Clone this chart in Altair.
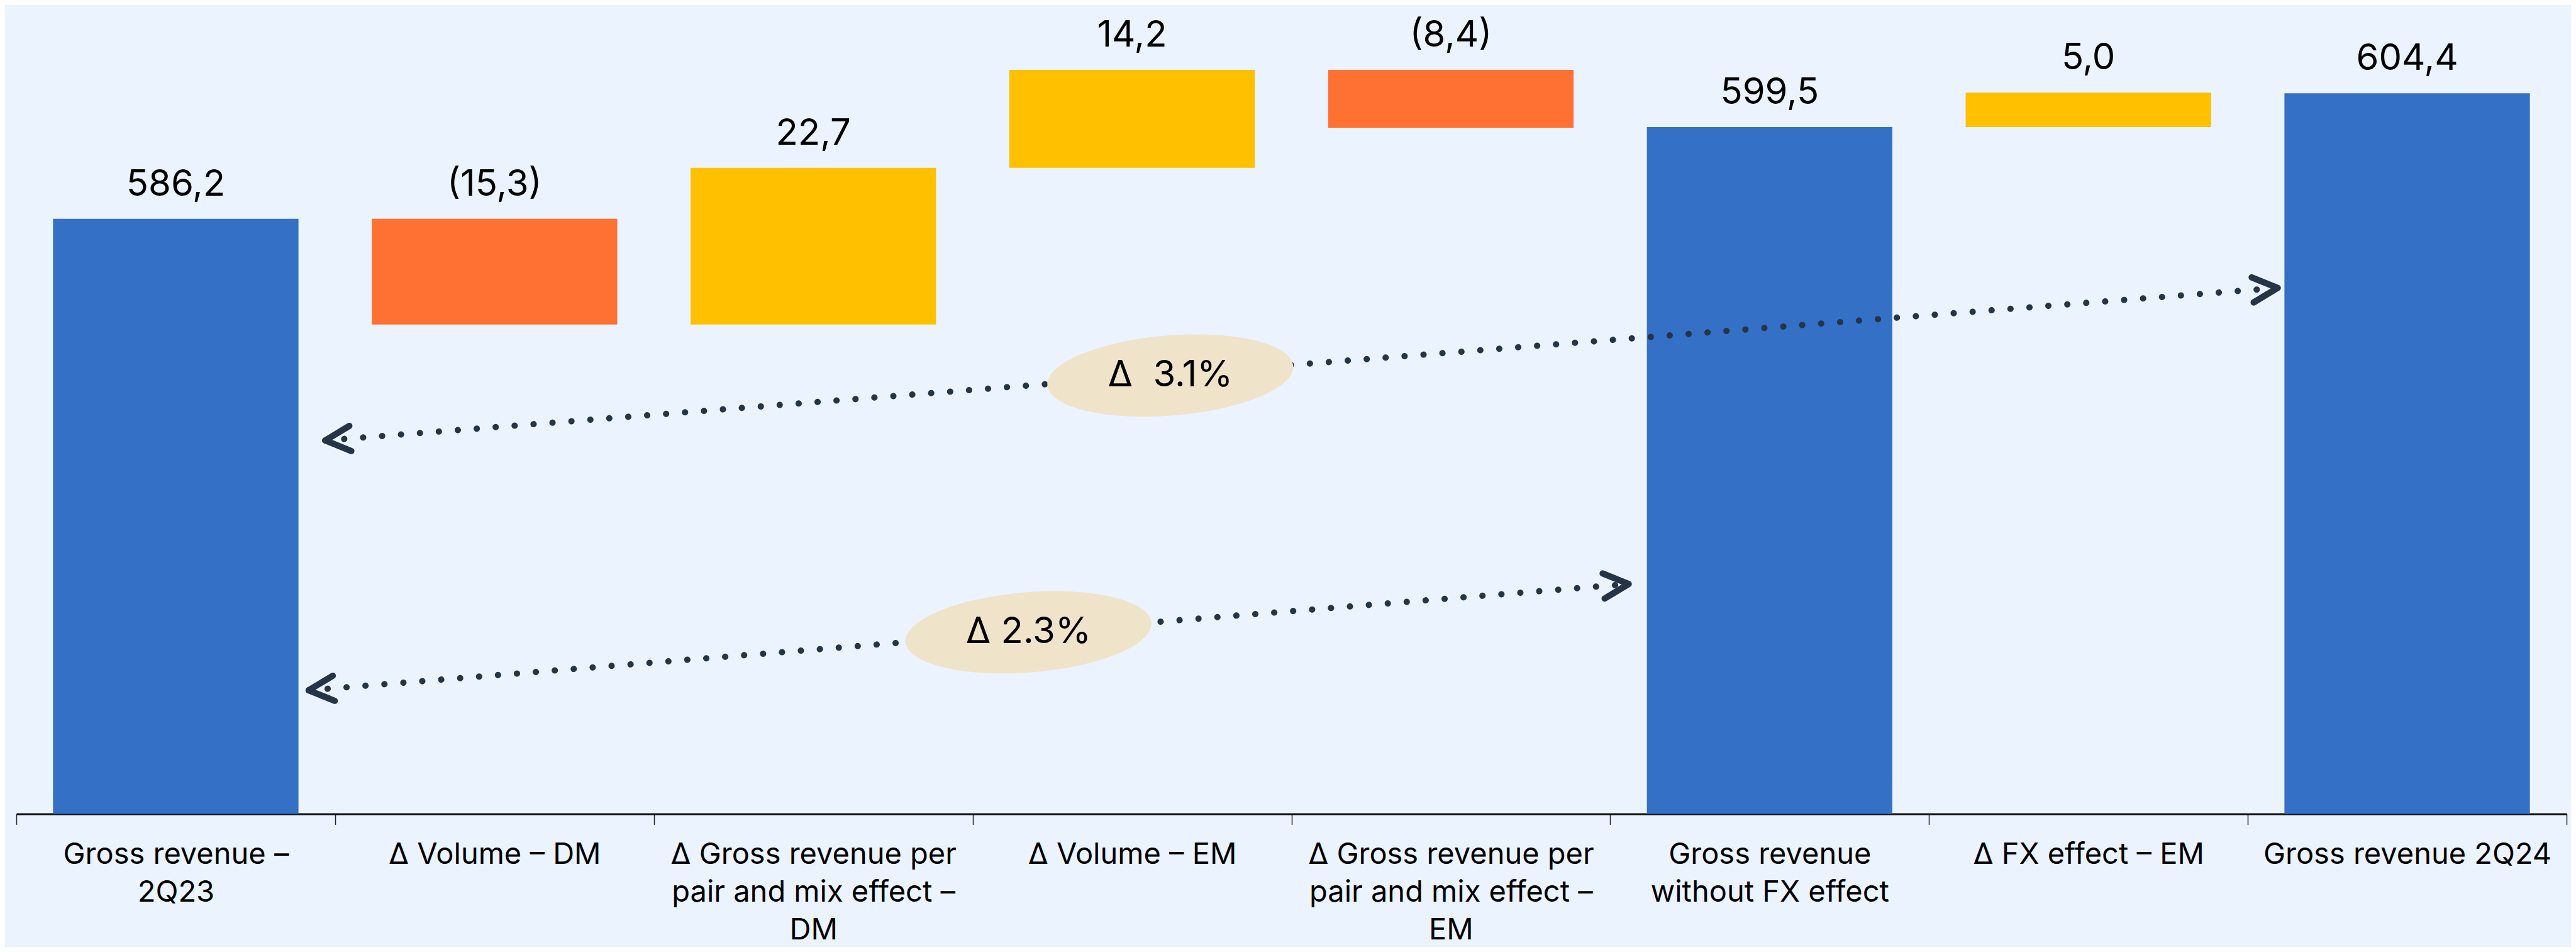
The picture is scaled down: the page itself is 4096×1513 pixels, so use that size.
import altair as alt
import pandas as pd

# ---------------- data ----------------
categories = [
    "Gross revenue –|2Q23",
    "Δ Volume – DM",
    "Δ Gross revenue per|pair and mix effect –|DM",
    "Δ Volume – EM",
    "Δ Gross revenue per|pair and mix effect –|EM",
    "Gross revenue|without FX effect",
    "Δ FX effect – EM",
    "Gross revenue 2Q24",
]
values = [586.2, -15.3, 22.7, 14.2, -8.4, 599.5, 5.0, 604.4]
kinds = ["total", "delta", "delta", "delta", "delta", "total", "delta", "total"]

# annotation arrows (x in category-index units, y in value units)
arrow_ids = ["a31", "a23"]
arrow_x_start = [0.969, 0.917]
arrow_y_start = [554.1, 517.9]
arrow_x_end = [7.094, 5.058]
arrow_y_end = [576.2, 533.3]
bubble_x = [3.620, 3.175]
bubble_y = [563.5, 526.3]
bubble_text = ["Δ\u00a0 3.1%", "Δ 2.3%"]

# ---------------- build tables ----------------
rows = []
running = 0.0
for cat, v, k in zip(categories, values, kinds):
    if k == "total":
        start, end = 0.0, v
        running = v
        cls = "total"
    else:
        start, end = running, running + v
        running = end
        cls = "neg" if v < 0 else "pos"
    txt = f"{abs(v):.1f}".replace(".", ",")
    if v < 0:
        txt = f"({txt})"
    rows.append(dict(cat=cat, start=start, end=end, top=max(start, end), cls=cls, label=txt))
df = pd.DataFrame(rows)

line_rows = []
for i, a in enumerate(arrow_ids):
    line_rows.append(dict(arrow=a, order=0, ax=arrow_x_start[i], ay=arrow_y_start[i]))
    line_rows.append(dict(arrow=a, order=1, ax=arrow_x_end[i], ay=arrow_y_end[i]))
lines_df = pd.DataFrame(line_rows)
left_df = pd.DataFrame(dict(ax=arrow_x_start, ay=arrow_y_start))
right_df = pd.DataFrame(dict(ax=arrow_x_end, ay=arrow_y_end))
bubble_df = pd.DataFrame(dict(ax=bubble_x, ay=bubble_y, txt=bubble_text))

# ---------------- styles ----------------
BLUE = "#3370C6"
ORANGE = "#FF7033"
YELLOW = "#FFC000"
BG = "#EBF3FE"
DOT = "#253447"
BUBBLE = "#EFE3CA"
FONT = "Inter"

W, H = 4055, 1272.4
yscale = alt.Scale(domain=[500, 616], clamp=True, zero=False, nice=False)
xq = alt.X("ax:Q", scale=alt.Scale(domain=[0, 8], nice=False, zero=False), axis=None)
yq = alt.Y("ay:Q", scale=yscale, axis=None)

xband = alt.X(
    "cat:N",
    sort=categories,
    scale=alt.Scale(type="band", paddingInner=0, paddingOuter=0),
    axis=alt.Axis(
        title=None,
        labelExpr="split(datum.label, '|')",
        labelFont=FONT,
        labelFontSize=47,
        labelColor="#000000",
        labelLineHeight=60,
        labelPadding=25,
        labelLimit=2000,
        labelAngle=0,
        labelOverlap=False,
        labelBaseline="top",
        tickBand="extent",
        tickSize=17,
        tickWidth=1.5,
        tickColor="#222222",
        domainColor="#111111",
        domainWidth=3,
        grid=False,
    ),
)

bars = alt.Chart(df).mark_bar(width=alt.RelativeBandSize(0.77)).encode(
    x=xband,
    y=alt.Y("start:Q", scale=yscale, axis=None),
    y2="end:Q",
    color=alt.Color(
        "cls:N",
        scale=alt.Scale(domain=["total", "neg", "pos"], range=[BLUE, ORANGE, YELLOW]),
        legend=None,
    ),
)

value_labels = alt.Chart(df).mark_text(
    dy=-54, fontSize=58, font=FONT, color="#000000", baseline="middle", align="center"
).encode(
    x=alt.X("cat:N", sort=categories, scale=alt.Scale(type="band", paddingInner=0, paddingOuter=0)),
    y=alt.Y("top:Q", scale=yscale, axis=None),
    text="label:N",
)

dotted = alt.Chart(lines_df).mark_line(
    color=DOT, strokeWidth=10, strokeDash=[0.1, 30.1], strokeCap="round"
).encode(x=xq, y=yq, detail="arrow:N", order="order:Q")

ellipse_path = (
    "M -1 0 C -1 -0.1795 -0.5523 -0.325 0 -0.325 C 0.5523 -0.325 1 -0.1795 1 0 "
    "C 1 0.1795 0.5523 0.325 0 0.325 C -0.5523 0.325 -1 0.1795 -1 0 Z"
)
bubbles = alt.Chart(bubble_df).mark_point(
    shape=ellipse_path, filled=True, fill=BUBBLE, size=153664, angle=355.5,
    opacity=1, strokeWidth=0,
).encode(x=xq, y=yq)

bubble_labels = alt.Chart(bubble_df).mark_text(
    fontSize=58, font=FONT, color="#000000", baseline="middle", align="center"
).encode(x=xq, y=yq, text="txt:N")

left_heads = alt.Chart(left_df).mark_point(
    shape="M 1 -0.5 L 0 0 L 1 0.5", filled=False, stroke=DOT, strokeWidth=10,
    size=6400, angle=355.5, opacity=1, strokeCap="round", strokeJoin="round",
).encode(x=xq, y=yq)

right_heads = alt.Chart(right_df).mark_point(
    shape="M -1 -0.5 L 0 0 L -1 0.5", filled=False, stroke=DOT, strokeWidth=10,
    size=6400, angle=355.5, opacity=1, strokeCap="round", strokeJoin="round",
).encode(x=xq, y=yq)

main = alt.layer(bars, value_labels)
annot = alt.layer(dotted, bubbles, bubble_labels, left_heads, right_heads)

chart = (
    alt.layer(main, annot)
    .resolve_scale(x="independent")
    .properties(
        width=W,
        height=H,
        background=BG,
        autosize=alt.AutoSizeParams(type="none"),
        padding={"left": 18, "top": 13, "right": 7, "bottom": 212},
    )
    .configure_view(strokeWidth=0)
)

chart.save("out.html", embed_options={"renderer": "svg", "actions": False})
